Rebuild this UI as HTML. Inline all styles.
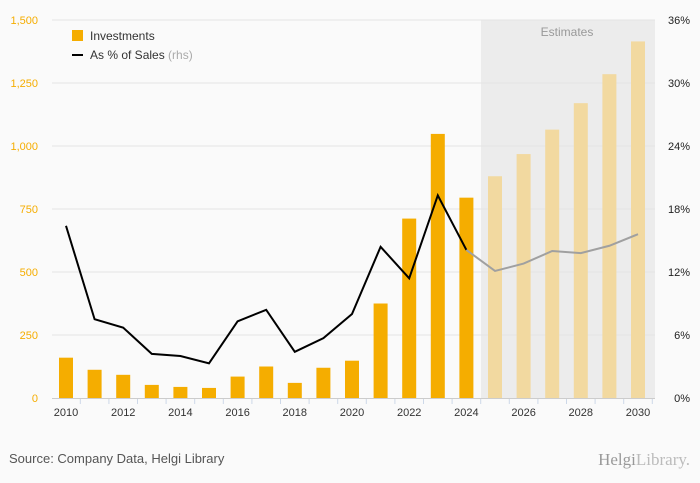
<!DOCTYPE html>
<html><head><meta charset="utf-8"><style>
body{margin:0;background:#fafafa;font-family:"Liberation Sans",sans-serif;}
svg{display:block}
</style></head><body>
<svg id="c" width="700" height="483" xmlns="http://www.w3.org/2000/svg">
<rect x="0" y="0" width="700" height="483" fill="#fafafa"/>
<rect x="481" y="20" width="174" height="378" fill="#ececec"/>
<text x="567" y="36" font-size="12" fill="#999" text-anchor="middle">Estimates</text>
<g id="grid"></g><g id="bars"></g><g id="lines"></g><g id="axes"></g>
<rect x="72" y="30" width="11" height="11" fill="#f5ad00"/>
<text x="90" y="40" font-size="12" fill="#333">Investments</text>
<line x1="72" y1="55" x2="83" y2="55" stroke="#000" stroke-width="2"/>
<text x="90" y="59" font-size="12" fill="#333">As % of Sales <tspan fill="#aaa">(rhs)</tspan></text>
<text x="9" y="463" font-size="13" fill="#555">Source: Company Data, Helgi Library</text>
<text x="690" y="465" font-size="17" fill="#999" text-anchor="end" font-family="Liberation Serif,serif">Helgi<tspan fill="#bbb">Library.</tspan></text>
</svg>
<script>
const years=[2010,2011,2012,2013,2014,2015,2016,2017,2018,2019,2020,2021,2022,2023,2024,2025,2026,2027,2028,2029,2030];
const investments=[160,112,92,52,44,40,85,125,60,120,148,375,712,1048,795,880,968,1065,1170,1285,1415];
const pctSales=[16.4,7.5,6.7,4.2,4.0,3.3,7.3,8.4,4.4,5.7,8.0,14.4,11.4,19.3,14.1,12.1,12.8,14.0,13.8,14.5,15.6];
const leftTicks=[0,250,500,750,1000,1250,1500];
const leftLabels=["0","250","500","750","1,000","1,250","1,500"];
const rightTicks=[0,6,12,18,24,30,36];
const firstEstimate=2025;
const NS="http://www.w3.org/2000/svg";
const x=y=>66+(y-2010)*28.6;
const yL=v=>398-v/1500*378;
const yR=v=>398-v/36*378;
function mk(t,a,p){const e=document.createElementNS(NS,t);for(const k in a)e.setAttribute(k,a[k]);document.getElementById(p).appendChild(e);return e;}
leftTicks.forEach((t,i)=>{
 if(t>0){const g=mk('line',{x1:52,x2:655,y1:yL(t),y2:yL(t),stroke:'#e4e4e4','stroke-width':1},'grid');
 
 }
 const l=mk('text',{x:38,y:yL(t)+4,'font-size':11,fill:'#f5ad00','text-anchor':'end'},'axes');l.textContent=leftLabels[i];
 
 
});
rightTicks.forEach(t=>{
 const l=mk('text',{x:690,y:yR(t)+4,'font-size':11,fill:'#222','text-anchor':'end'},'axes');l.textContent=t+'%';
 
 
});
const ax=mk('line',{x1:52,x2:655,y1:398.5,y2:398.5,stroke:'#ccc'},'axes');


years.forEach((yr,i)=>{
 const est=yr>=firstEstimate;
 const b=mk('rect',{x:x(yr)-7,y:yL(investments[i]),width:14,height:398-yL(investments[i]),fill:est?'#f2d9a0':'#f5ad00'},'bars');
 
 
 const tk=mk('line',{x1:x(yr)+14.3,x2:x(yr)+14.3,y1:399,y2:404,stroke:'#cdd8e8'},'axes');
 
 
 if((yr-2010)%2===0){const l=mk('text',{x:x(yr),y:416,'font-size':11,fill:'#333','text-anchor':'middle'},'axes');l.textContent=yr;
 
 }
});
let a='',b='';
years.forEach((yr,i)=>{const p=x(yr)+','+yR(pctSales[i]);if(yr<=firstEstimate-1)a+=(a?' L':'M')+p;if(yr>=firstEstimate-1)b+=(b?' L':'M')+p;});
const l1=mk('path',{d:a,fill:'none',stroke:'#000','stroke-width':2},'lines');


const l2=mk('path',{d:b,fill:'none',stroke:'#a0a0a0','stroke-width':2},'lines');


</script>
</body></html>
